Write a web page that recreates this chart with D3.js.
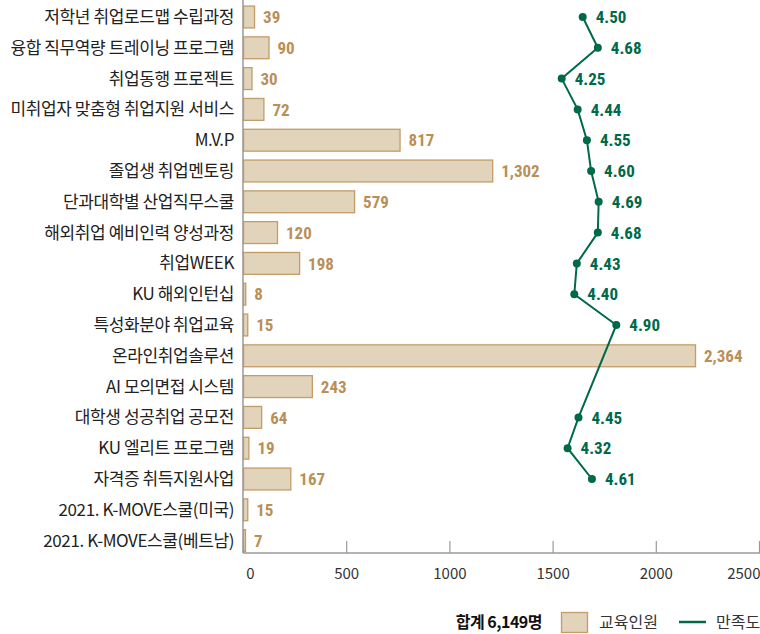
<!DOCTYPE html>
<html>
<head>
<meta charset="utf-8">
<script src="https://cdn.jsdelivr.net/npm/d3@7"></script>
<style>
  body { margin: 0; background: #fff; }
  svg { display: block; }
</style>
</head>
<body>
<div id="chart"></div>
<script>
var categories = [
    "저학년 취업로드맵 수립과정",
    "융합 직무역량 트레이닝 프로그램",
    "취업동행 프로젝트",
    "미취업자 맞춤형 취업지원 서비스",
    "M.V.P",
    "졸업생 취업멘토링",
    "단과대학별 산업직무스쿨",
    "해외취업 예비인력 양성과정",
    "취업WEEK",
    "KU 해외인턴십",
    "특성화분야 취업교육",
    "온라인취업솔루션",
    "AI 모의면접 시스템",
    "대학생 성공취업 공모전",
    "KU 엘리트 프로그램",
    "자격증 취득지원사업",
    "2021. K-MOVE스쿨(미국)",
    "2021. K-MOVE스쿨(베트남)"
];
var trainees = [39, 90, 30, 72, 817, 1302, 579, 120, 198, 8, 15, 2364, 243, 64, 19, 167, 15, 7];
var satisfaction = [4.50, 4.68, 4.25, 4.44, 4.55, 4.60, 4.69, 4.68, 4.43, 4.40, 4.90, null, null, 4.45, 4.32, 4.61, null, null];
var xTicks = [0, 500, 1000, 1500, 2000, 2500];

var width = 760, height = 634;
var left = 243, axisY = 553;

var barFill = "#e2d3bb", barStroke = "#c39c68", barText = "#b98f57";
var green = "#00694a";

var svg = d3.select("#chart").append("svg")
    .attr("width", width)
    .attr("height", height);

var y = d3.scaleBand()
    .domain(categories)
    .range([1.6, 556])
    .paddingInner(0.29)
    .paddingOuter(0.145);

// the source drew short bars longer than long ones, so the bar scale is polylinear
var xBar = d3.scaleLinear()
    .domain([0, 300, 500, 2500])
    .range([0, 85, 96, 478]);

var xAxisScale = d3.scaleLinear()
    .domain([0, 2500])
    .range([0, 516]);

var xSat = d3.scaleLinear()
    .domain([4, 5])
    .range([297.7, 381.7]);

var plot = svg.append("g")
    .attr("transform", "translate(" + left + ",0)");

// bars
plot.selectAll(".bar")
    .data(trainees)
    .enter().append("rect")
    .attr("class", "bar")
    .attr("x", 0.5)
    .attr("y", function(d, i) { return y(categories[i]); })
    .attr("width", function(d) { return Math.max(xBar(d), 1.5); })
    .attr("height", y.bandwidth())
    .attr("fill", barFill)
    .attr("stroke", barStroke)
    .attr("stroke-width", 1.3);

plot.selectAll(".barlbl")
    .data(trainees)
    .enter().append("text")
    .attr("class", "barlbl")
    .attr("x", function(d) { return xBar(d) + 9; })
    .attr("y", function(d, i) { return y(categories[i]) + y.bandwidth() / 2; })
    .attr("dy", "0.36em")
    .attr("fill", barText)
    .style("font-family", "'Liberation Sans Narrow', 'Roboto Condensed', sans-serif")
    .style("font-weight", "bold")
    .style("font-size", "17px")
    .text(function(d) { return d3.format(",")(d); });

// y axis line
plot.append("line")
    .attr("x1", 0).attr("x2", 0)
    .attr("y1", 0).attr("y2", axisY)
    .attr("stroke", "#9a9a9a")
    .attr("stroke-width", 1.5);

// category labels
svg.selectAll(".cat")
    .data(categories)
    .enter().append("text")
    .attr("class", "cat")
    .attr("x", 234)
    .attr("y", function(d) { return y(d) + y.bandwidth() / 2; })
    .attr("dy", "0.35em")
    .attr("text-anchor", "end")
    .attr("fill", "#222")
    .style("font-family", "'Noto Sans CJK KR', sans-serif")
    .style("font-size", "17px")
    .style("letter-spacing", "-0.4px")
    .text(function(d) { return d; });

// x axis
var xAxis = plot.append("g")
    .attr("transform", "translate(0," + axisY + ")")
    .call(d3.axisBottom(xAxisScale).tickValues(xTicks).tickFormat(d3.format("d")).tickSize(-12).tickPadding(15));

xAxis.select(".domain")
    .attr("d", "M0,0H" + (width - left))
    .attr("stroke", "#9a9a9a")
    .attr("stroke-width", 1.5);
xAxis.selectAll(".tick line")
    .attr("stroke", "#9a9a9a")
    .attr("stroke-width", 1.2);
xAxis.selectAll(".tick text")
    .attr("fill", "#333")
    .style("font-family", "'Noto Sans CJK KR', sans-serif")
    .style("font-size", "15px")
    .attr("dx", function(d) { return d == 0 ? 7 : 0; })
    .attr("text-anchor", function(d) { return d == 2500 ? "end" : "middle"; })
    .attr("x", function(d) { return d == 2500 ? 1 : 0; });

// satisfaction line
var satData = [];
for (var i = 0; i < categories.length; i++) {
    if (satisfaction[i] != null) {
        satData.push({ category: categories[i], value: satisfaction[i] });
    }
}

var line = d3.line()
    .x(function(d) { return xSat(d.value); })
    .y(function(d) { return y(d.category) + y.bandwidth() / 2; });

plot.append("path")
    .datum(satData)
    .attr("d", line)
    .attr("fill", "none")
    .attr("stroke", green)
    .attr("stroke-width", 2);

plot.selectAll(".dot")
    .data(satData)
    .enter().append("circle")
    .attr("class", "dot")
    .attr("cx", line.x())
    .attr("cy", line.y())
    .attr("r", 4)
    .attr("fill", green);

plot.selectAll(".satlbl")
    .data(satData)
    .enter().append("text")
    .attr("class", "satlbl")
    .attr("x", function(d) { return xSat(d.value) + 13; })
    .attr("y", line.y())
    .attr("dy", "0.36em")
    .attr("fill", green)
    .style("font-family", "'Liberation Sans Narrow', 'Roboto Condensed', sans-serif")
    .style("font-weight", "bold")
    .style("font-size", "17px")
    .text(function(d) { return d.value.toFixed(2); });

// legend
var legend = svg.append("g")
    .attr("transform", "translate(0,622)");

legend.append("text")
    .attr("x", 542)
    .attr("dy", "0.35em")
    .attr("text-anchor", "end")
    .attr("fill", "#111")
    .style("font-family", "'Noto Sans CJK KR', sans-serif")
    .style("font-weight", "bold")
    .style("font-size", "16px")
    .style("letter-spacing", "-0.5px")
    .text("합계 " + d3.format(",")(d3.sum(trainees)) + "명");

legend.append("rect")
    .attr("x", 561.5).attr("y", -9.5)
    .attr("width", 26).attr("height", 20)
    .attr("fill", barFill)
    .attr("stroke", barStroke)
    .attr("stroke-width", 1.3);

legend.append("text")
    .attr("x", 599)
    .attr("dy", "0.35em")
    .attr("fill", "#333")
    .style("font-family", "'Noto Sans CJK KR', sans-serif")
    .style("font-size", "16px")
    .text("교육인원");

legend.append("line")
    .attr("x1", 679).attr("x2", 706)
    .attr("y1", 0).attr("y2", 0)
    .attr("stroke", green)
    .attr("stroke-width", 2.5);

legend.append("text")
    .attr("x", 716)
    .attr("dy", "0.35em")
    .attr("fill", "#333")
    .style("font-family", "'Noto Sans CJK KR', sans-serif")
    .style("font-size", "16px")
    .text("만족도");
</script>
</body>
</html>
